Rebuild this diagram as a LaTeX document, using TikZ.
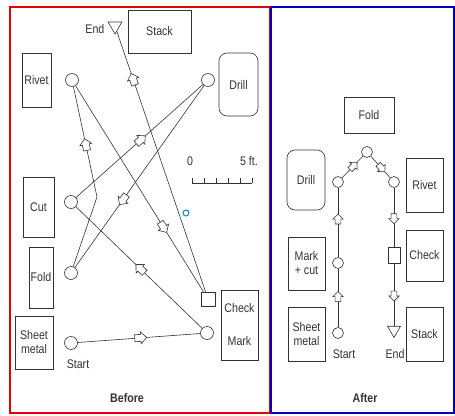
\documentclass[tikz,border=0pt]{standalone}
\usepackage{fontspec}
\setmainfont{Liberation Sans}[FakeStretch=0.85]
\usetikzlibrary{shapes.geometric,shapes.arrows}

\begin{document}
\begin{tikzpicture}[x=1pt,y=-1pt,color=black!80,line width=0.6pt,
  font=\fontsize{12.5}{14}\selectfont,
  op node/.style={circle,draw,inner sep=0pt,minimum size=13pt},
  small op/.style={circle,draw,inner sep=0pt,minimum size=11pt},
  box node/.style={rectangle,draw,inner sep=1pt,align=center},
  store node/.style={regular polygon,regular polygon sides=3,shape border rotate=180,
    draw,inner sep=0pt,minimum size=16pt},
  flow mark/.style={single arrow,draw,fill=white,sloped,allow upside down,anchor=center,
    inner sep=3.2pt,minimum height=12pt,single arrow head extend=2.5pt},
  small mark/.style={flow mark,inner sep=2.6pt,minimum height=10pt,single arrow head extend=2.2pt}]
  \useasboundingbox (0,0) rectangle (455,415);

  % Before
  \draw[red!90!black,line width=1.4pt] (10,7) rectangle (270,413);
  \node[box node,minimum width=63pt,minimum height=43pt] (stackB) at (159.5,31.5) {Stack};
  \node[box node,minimum width=29pt,minimum height=54pt] (rivetB) at (36.5,80) {Rivet};
  \node[box node,rounded corners=8pt,minimum width=39pt,minimum height=63pt] (drillB) at (238.5,84.5) {Drill};
  \node[box node,minimum width=31pt,minimum height=60pt] (cutB) at (38.5,207) {Cut};
  \node[box node,minimum width=24pt,minimum height=61pt] (foldB) at (41,277.5) {Fold};
  \node[box node,minimum width=38pt,minimum height=53pt] (sheetB) at (34,342.5) {Sheet\\metal};
  \node[box node,minimum width=37pt,minimum height=70pt] (checkB) at (239.5,325) {Check\\[19pt]Mark};

  \node[store node] (endB) at (115,26) {};
  \node[anchor=east] (endtxtB) at (108,29) {End};
  \node[op node] (o1) at (72,80) {};
  \node[op node] (o2) at (208,80) {};
  \node[op node] (o3) at (71,202) {};
  \node[op node] (o4) at (71,273) {};
  \node[op node] (o5) at (71,343) {};
  \node (starttxtB) at (78,364) {Start};
  \node[op node] (o6) at (207,333) {};
  \node[draw,inner sep=0pt,minimum size=14pt] (insB) at (208,299) {};
  \coordinate (kinkB) at (97,197);
  \node[circle,draw=cyan!70!blue,line width=1pt,inner sep=0pt,minimum size=6pt] (cursor) at (186,213) {};

  \path (o5) edge node[flow mark,pos=0.5] {} (o6)
        (o6) edge node[flow mark,pos=0.48] {} (o3)
        (o3) edge node[flow mark,pos=0.5] {} (o2)
        (o2) edge node[flow mark,pos=0.62] {} (o4)
        (o4) edge (kinkB)
        (kinkB) edge node[flow mark,pos=0.46] {} (o1)
        (o1) edge node[flow mark,pos=0.68] {} (insB)
        (insB) edge node[flow mark,pos=0.81] {} (endB);

  % scale
  \node (zero) at (190,161) {0};
  \node (five) at (249,161) {5 ft.};
  \draw (192,183) -- (252,183);
  \foreach \k in {0,...,5}
    \draw (192+\k*12,183) -- ++(0,-5);

  \node[font=\fontsize{12.5}{14}\selectfont\bfseries] (before) at (127,398) {Before};

  % After
  \draw[blue!75!black,line width=1.4pt] (271,7) rectangle (454,413);
  \node[box node,minimum width=50pt,minimum height=36pt] (foldA) at (369,115) {Fold};
  \node[box node,rounded corners=8pt,minimum width=38pt,minimum height=60pt] (drillA) at (306,180) {Drill};
  \node[box node,minimum width=37pt,minimum height=54pt] (rivetA) at (424.5,185) {Rivet};
  \node[box node,minimum width=37pt,minimum height=53pt] (markA) at (306.5,263.5) {Mark\\+ cut};
  \node[box node,minimum width=37pt,minimum height=54pt] (sheetA) at (306.5,334) {Sheet\\metal};
  \node[box node,minimum width=37pt,minimum height=51pt] (checkA) at (424.5,255.5) {Check};
  \node[box node,minimum width=37pt,minimum height=54pt] (stackA) at (424.5,334) {Stack};

  \node[small op] (a1) at (338,333) {};
  \node[small op] (a2) at (338,263) {};
  \node[small op] (a3) at (338,182) {};
  \node[small op] (a4) at (367,152) {};
  \node[small op] (a5) at (394,182) {};
  \node[draw,inner sep=0pt,minimum width=12pt,minimum height=16pt] (insA) at (394,255) {};
  \node[store node,minimum size=15pt] (endA) at (394,330) {};
  \node (starttxtA) at (344,354) {Start};
  \node (endtxtA) at (395,354) {End};

  \path (a1) edge node[small mark,pos=0.5] {} (a2)
        (a2) edge node[small mark,pos=0.53] {} (a3)
        (a3) edge node[small mark,pos=0.5] {} (a4)
        (a4) edge node[small mark,pos=0.5] {} (a5)
        (a5) edge node[small mark,pos=0.5] {} (insA)
        (insA) edge node[small mark,pos=0.5] {} (endA);

  \node[font=\fontsize{12.5}{14}\selectfont\bfseries] (after) at (365,398) {After};
\end{tikzpicture}
\end{document}
